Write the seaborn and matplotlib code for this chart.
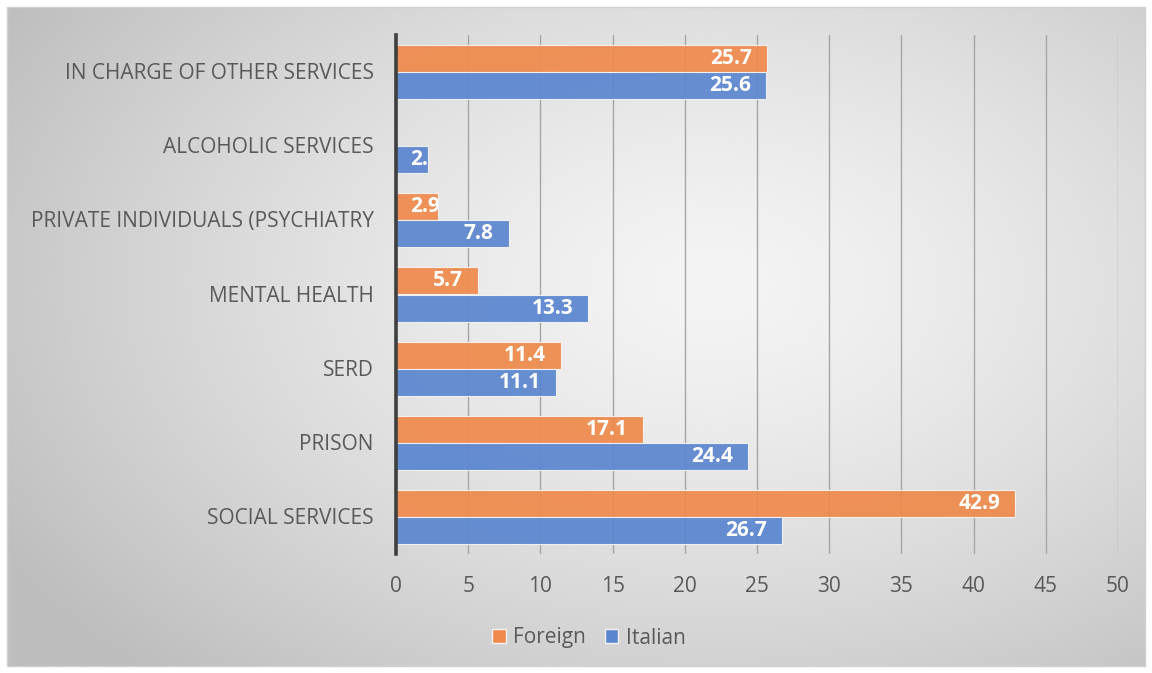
import numpy as np
import pandas as pd
import matplotlib
matplotlib.use("Agg")
import matplotlib.pyplot as plt
from matplotlib.patches import Rectangle
from matplotlib.transforms import Bbox, TransformedBbox, ScaledTranslation
import seaborn as sns

categories = [
    "IN CHARGE OF OTHER SERVICES",
    "ALCOHOLIC SERVICES",
    "PRIVATE INDIVIDUALS (PSYCHIATRY",
    "MENTAL HEALTH",
    "SERD",
    "PRISON",
    "SOCIAL SERVICES",
]
foreign = [25.7, 0.0, 2.9, 5.7, 11.4, 17.1, 42.9]
italian = [25.6, 2.2, 7.8, 13.3, 11.1, 24.4, 26.7]
groups = ["Foreign", "Italian"]
x_ticks = [0, 5, 10, 15, 20, 25, 30, 35, 40, 45, 50]

colors = {"Foreign": "#EF8A4C", "Italian": "#5B86CF"}
text_gray = "#595959"

sns.set_theme(style="white")
plt.rcParams["font.family"] = ["Open Sans", "DejaVu Sans"]

df = pd.DataFrame({
    "category": categories * 2,
    "value": foreign + italian,
    "group": ["Foreign"] * len(categories) + ["Italian"] * len(categories),
})

W, H = 1152, 673
DPI = 100
fig = plt.figure(figsize=(W / DPI, H / DPI), dpi=DPI, facecolor="white")

# gradient panel behind the chart
bg = fig.add_axes([0, 0, 1, 1], zorder=-5)
bg.set_xlim(0, W)
bg.set_ylim(H, 0)
bg.axis("off")
fx0, fx1, fy0, fy1 = 7, 1145, 7, 666
gx = np.linspace(0, 1, 400)
gy = np.linspace(0, 1, 240)
GX, GY = np.meshgrid(gx, gy)
dist = np.sqrt(((GX - 0.62) * 1.0) ** 2 + ((GY - 0.42) * 0.9) ** 2)
shade = 0.955 - 0.21 * np.clip(dist / 0.72, 0, 1) ** 1.4
bg.imshow(shade, cmap="gray", vmin=0, vmax=1, extent=(fx0, fx1, fy1, fy0),
          aspect="auto", interpolation="bicubic")
bg.add_patch(Rectangle((fx0, fy0), fx1 - fx0, fy1 - fy0, fill=False,
                       edgecolor="#d0d0d0", linewidth=1))

left, right = 396 / W, 1118 / W
top, bottom = 1 - 35 / H, 1 - 554 / H
ax = fig.add_axes([left, bottom, right - left, top - bottom])
ax.set_facecolor("none")

for t in x_ticks[1:]:
    ax.axvline(t, color="#a6a6a6", linewidth=1.0, zorder=1)

sns.barplot(data=df, y="category", x="value", hue="group", order=categories,
            hue_order=groups, palette=colors, orient="h", width=0.73,
            edgecolor="#f4f4f4", linewidth=0.8, saturation=1, alpha=0.93,
            ax=ax, legend=False, zorder=3)

ax.set_xlim(0, 50)
ax.set_ylim(len(categories) - 0.5, -0.5)
ax.set_xticks(x_ticks)
ax.set_xticklabels([str(t) for t in x_ticks], fontsize=15, color=text_gray)
ax.tick_params(axis="x", length=0, pad=16)
ax.tick_params(axis="y", length=0, pad=16)
ax.set_yticks(range(len(categories)))
ax.set_yticklabels(categories, fontsize=15, color=text_gray, va="bottom")
for lbl in ax.get_yticklabels():
    lbl.set_transform(lbl.get_transform() + ScaledTranslation(0, -12 / DPI, fig.dpi_scale_trans))
ax.set_xlabel("")
ax.set_ylabel("")
for s in ["top", "right", "bottom"]:
    ax.spines[s].set_visible(False)
ax.spines["left"].set_color("#3f3f3f")
ax.spines["left"].set_linewidth(2.6)
ax.spines["left"].set_zorder(5)

# value labels: inside the bar end, or from the bar base when the bar is
# too short; always clipped to the bar itself
px_per_unit = (right - left) * W / 50
for container, vals in zip(ax.containers, [foreign, italian]):
    for bar, v in zip(container, vals):
        if v <= 0:
            continue
        y = bar.get_y() + bar.get_height() / 2
        if v * px_per_unit > 60:
            txt = ax.text(v, y, f"{v:.1f}", ha="right", va="center",
                          fontsize=15, fontweight="bold", color="white", zorder=6)
            txt.set_transform(ax.transData + ScaledTranslation(-15 / DPI, 0, fig.dpi_scale_trans))
        else:
            txt = ax.text(0, y, f"{v:.1f}", ha="left", va="center",
                          fontsize=15, fontweight="bold", color="white", zorder=6)
            txt.set_transform(ax.transData + ScaledTranslation(14 / DPI, 0, fig.dpi_scale_trans))
        clip = TransformedBbox(Bbox.from_bounds(bar.get_x(), bar.get_y(),
                                                bar.get_width(), bar.get_height()),
                               ax.transData)
        txt.set_clip_box(clip)
        txt.set_clip_on(True)

handles = [Rectangle((0, 0), 1, 1, facecolor=colors[g], edgecolor="#f4f4f4") for g in groups]
fig.legend(handles, groups, loc="center", bbox_to_anchor=(589 / W, 1 - 638 / H),
           ncol=2, frameon=False, fontsize=15, labelcolor=text_gray,
           handlelength=0.65, handleheight=0.65, handletextpad=0.35,
           columnspacing=0.9)

fig.savefig("out.png", dpi=DPI, facecolor="white")
